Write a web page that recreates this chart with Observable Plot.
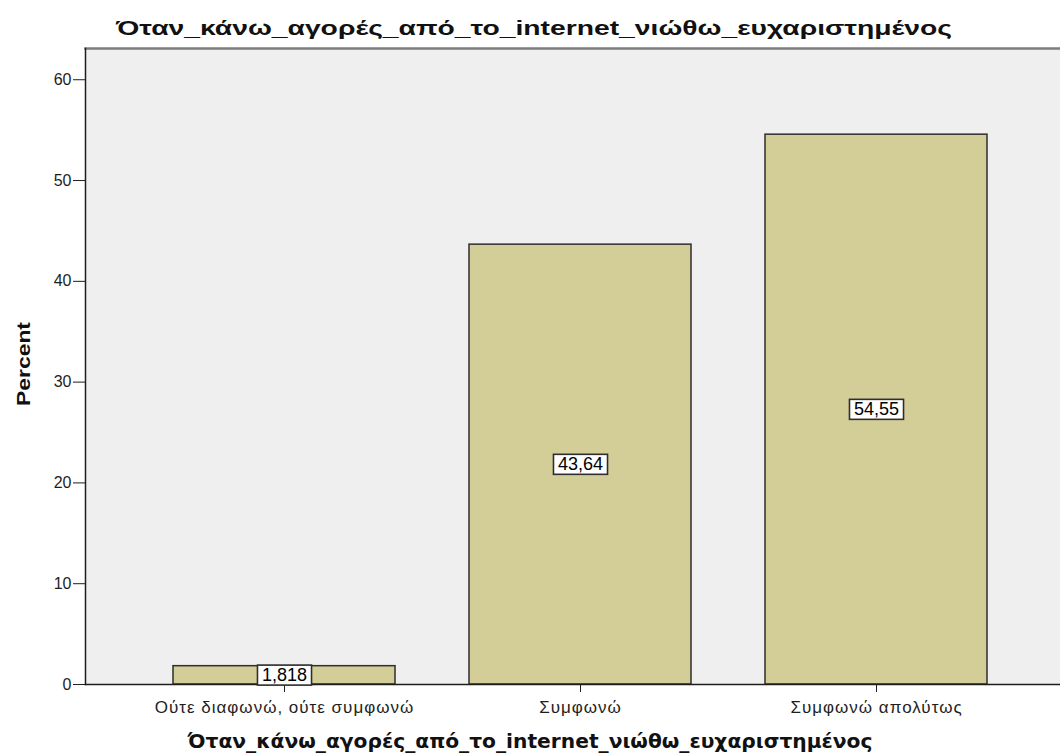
<!DOCTYPE html>
<html>
<head>
<meta charset="utf-8">
<script src="https://cdn.jsdelivr.net/npm/d3@7"></script>
<script src="https://cdn.jsdelivr.net/npm/@observablehq/plot@0.6"></script>
<style>
  body { margin: 0; background: #ffffff; }
  #chart svg { display: block; }
  #chart svg g[aria-label="x-axis tick label"] text { letter-spacing: 1px; }
</style>
</head>
<body>
<div id="chart"></div>
<script>
// Survey item: share of respondents per answer
const chartTitle = "Όταν_κάνω_αγορές_από_το_internet_νιώθω_ευχαριστημένος";
const xTitle = "Όταν_κάνω_αγορές_από_το_internet_νιώθω_ευχαριστημένος";
const yTitle = "Percent";
const categories = ["Ούτε διαφωνώ, ούτε συμφωνώ", "Συμφωνώ", "Συμφωνώ απολύτως"];
const percents = [1.818, 43.64, 54.55];
const valueLabels = ["1,818", "43,64", "54,55"];
const yTicks = [0, 10, 20, 30, 40, 50, 60];

const data = categories.map((category, i) => ({
  category,
  percent: percents[i],
  label: valueLabels[i]
}));

const W = 1060, H = 756;
const LABEL_FILL = "#010101";

const chart = Plot.plot({
  width: W,
  height: H,
  marginTop: 48,
  marginBottom: 72,
  marginLeft: 85,
  marginRight: 0,
  style: {
    fontFamily: "'Liberation Sans', Arial, sans-serif",
    fontSize: "16px",
    color: "#1e1e1e",
    background: "#ffffff",
    overflow: "hidden"
  },
  x: {
    domain: categories,
    range: [85, 1074],
    paddingInner: 0.25,
    paddingOuter: 0.29,
    label: null
  },
  y: { domain: [0, 63.1], label: null },
  marks: [
    Plot.frame({ fill: "#efefef", stroke: "none" }),
    Plot.frame({ anchor: "top", stroke: "#7d7d7d", strokeWidth: 2.5 }),
    Plot.barY(data, {
      x: "category",
      y: "percent",
      fill: "#d3ce98",
      stroke: "#2e2e2e",
      strokeWidth: 1.5
    }),
    Plot.frame({ anchor: "left", stroke: "#1e1e1e", strokeWidth: 1.5 }),
    Plot.frame({ anchor: "bottom", stroke: "#1e1e1e", strokeWidth: 1.5 }),
    Plot.axisY({ ticks: yTicks, tickSize: 12, tickPadding: 2, fontSize: 16, label: null }),
    Plot.axisX({ tickSize: 8, tickPadding: 8, fontSize: 17, label: null }),
    Plot.text(data, {
      x: "category",
      y: d => d.percent / 2,
      text: "label",
      fill: LABEL_FILL,
      fontSize: 18
    })
  ]
});

document.getElementById("chart").appendChild(chart);

const svg = d3.select(chart);

// boxed value labels: the rect shares the text's own transform
svg.selectAll(`g[fill="${LABEL_FILL}"] text`).each(function () {
  const b = this.getBBox();
  const padX = 4.5, h = 20;
  const cy = b.y + b.height / 2;
  d3.select(this.parentNode)
    .insert("rect", () => this)
    .attr("transform", this.getAttribute("transform"))
    .attr("x", b.x - padX)
    .attr("y", cy - h / 2)
    .attr("width", b.width + 2 * padX)
    .attr("height", h)
    .attr("fill", "#ffffff")
    .attr("stroke", "#2e2e2e")
    .attr("stroke-width", 1.6);
});

// chart title
svg.append("text")
  .attr("x", 534)
  .attr("y", 35)
  .attr("text-anchor", "middle")
  .attr("font-family", "'Liberation Sans', Arial, sans-serif")
  .attr("font-weight", "bold")
  .attr("font-size", 21)
  .attr("fill", "#111")
  .attr("textLength", 836)
  .attr("lengthAdjust", "spacingAndGlyphs")
  .text(chartTitle);

// x axis title
svg.append("text")
  .attr("x", 530)
  .attr("y", 748)
  .attr("text-anchor", "middle")
  .attr("font-family", "'DejaVu Sans', Verdana, sans-serif")
  .attr("font-weight", "bold")
  .attr("font-size", 20)
  .attr("fill", "#111")
  .attr("textLength", 685)
  .attr("lengthAdjust", "spacingAndGlyphs")
  .text(xTitle);

// y axis title
svg.append("text")
  .attr("transform", "translate(30,364) rotate(-90)")
  .attr("text-anchor", "middle")
  .attr("font-family", "'Liberation Sans', Arial, sans-serif")
  .attr("font-weight", "bold")
  .attr("font-size", 19)
  .attr("fill", "#111")
  .attr("textLength", 84)
  .attr("lengthAdjust", "spacingAndGlyphs")
  .text(yTitle);
</script>
</body>
</html>
